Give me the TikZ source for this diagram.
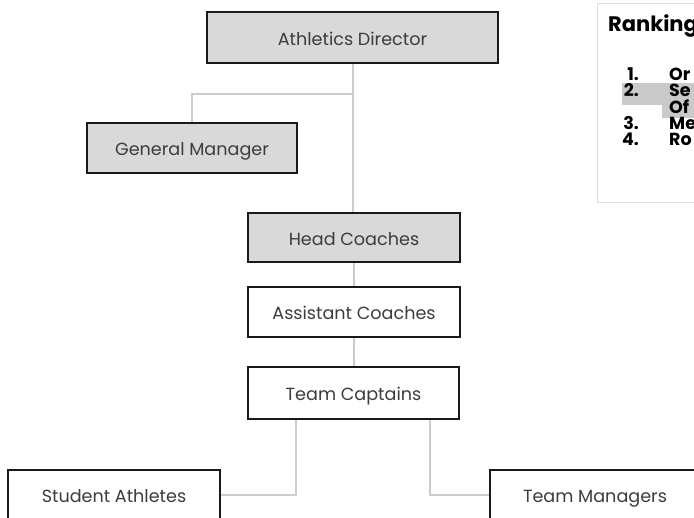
\documentclass[tikz,border=0pt]{standalone}
\usepackage{fontspec}
\setmainfont{Poppins}
\usetikzlibrary{calc}
\definecolor{boxgray}{HTML}{D9D9D9}
\definecolor{linegray}{HTML}{CCCCCC}
\definecolor{txtgray}{HTML}{3C3C3C}
\definecolor{hlgray}{HTML}{C9C9C9}
\definecolor{legborder}{HTML}{DDDDDD}
\tikzset{
  orgbox/.style={draw=black!90, line width=2pt, rectangle, align=center,
    text=txtgray, font=\fontsize{17.6}{19}\selectfont, inner sep=0pt,
    text height=18pt, text depth=2.6pt},
  graybox/.style={orgbox, fill=boxgray},
  whitebox/.style={orgbox, fill=white},
  link/.style={draw=linegray, line width=2pt},
  legtext/.style={font=\bfseries\fontsize{17.5}{19}\selectfont, text=black, inner sep=0pt}
}
\begin{document}
\begin{tikzpicture}[x=1pt,y=-1pt]
\useasboundingbox (0,0) rectangle (694,518);
\clip (0,0) rectangle (694,518);
\fill[white] (0,0) rectangle (694,518);
% nodes (first pass, used for naming)
\node[graybox, minimum width=291pt, minimum height=51pt] (AD) at (352.5,37.5) {Athletics Director};
\node[graybox, minimum width=210pt, minimum height=50pt] (GM) at (192,148) {General Manager};
\node[graybox, minimum width=212pt, minimum height=49pt] (HC) at (354,237.5) {Head Coaches};
\node[whitebox, minimum width=212pt, minimum height=50pt] (AC) at (354,312) {Assistant Coaches};
\node[whitebox, minimum width=211pt, minimum height=52pt] (TC) at (353.5,393) {Team Captains};
\node[whitebox, minimum width=212pt, minimum height=50pt] (SA) at (114,495) {Student Athletes};
\node[whitebox, minimum width=210pt, minimum height=50pt] (TM) at (595,495) {Team Managers};
% connectors
\coordinate (br) at ($(AD.south)+(0,30)$);
\coordinate (tcl) at ($(TC.south)+(-57.5,0)$);
\coordinate (tcr) at ($(TC.south)+(76.5,0)$);
\draw[link] (AD.south) -- (AD.south |- HC.north);
\draw[link] (br) -| (GM.north);
\draw[link] (HC.south) -- (HC.south |- AC.north);
\draw[link] (AC.south) -- (AC.south |- TC.north);
\draw[link] (tcl) |- (SA.east);
\draw[link] (tcr) |- (TM.west);
% boxes on top of connectors
\node[graybox, minimum width=291pt, minimum height=51pt] at (352.5,37.5) {Athletics Director};
\node[graybox, minimum width=210pt, minimum height=50pt] at (192,148) {General Manager};
\node[graybox, minimum width=212pt, minimum height=49pt] at (354,237.5) {Head Coaches};
\node[whitebox, minimum width=212pt, minimum height=50pt] at (354,312) {Assistant Coaches};
\node[whitebox, minimum width=211pt, minimum height=52pt] at (353.5,393) {Team Captains};
\node[whitebox, minimum width=212pt, minimum height=50pt] at (114,495) {Student Athletes};
\node[whitebox, minimum width=210pt, minimum height=50pt] at (595,495) {Team Managers};
% legend
\node[draw=legborder, line width=1.2pt, minimum width=120pt, minimum height=199pt, anchor=north west, inner sep=0pt] (LG) at (597,3) {};
\fill[hlgray] (622,83) rectangle (662,105);
\fill[hlgray] (662,83) rectangle (700,118);
\node[font=\bfseries\fontsize{21}{23}\selectfont, anchor=base west, inner sep=0pt] (RK) at (608,32) {Ranking};
\node[legtext, anchor=base east] (n1) at (639,81) {1.};
\node[legtext, anchor=base east] (n2) at (639,97) {2.};
\node[legtext, anchor=base east] (n3) at (639,130) {3.};
\node[legtext, anchor=base east] (n4) at (639,146) {4.};
\node[legtext, anchor=base west] (t1) at (669,81) {Or};
\node[legtext, anchor=base west] (t2) at (669,97) {Se};
\node[legtext, anchor=base west] (t2b) at (669,114) {Of};
\node[legtext, anchor=base west] (t3) at (669,130) {Me};
\node[legtext, anchor=base west] (t4) at (669,146) {Ro};
\end{tikzpicture}
\end{document}
